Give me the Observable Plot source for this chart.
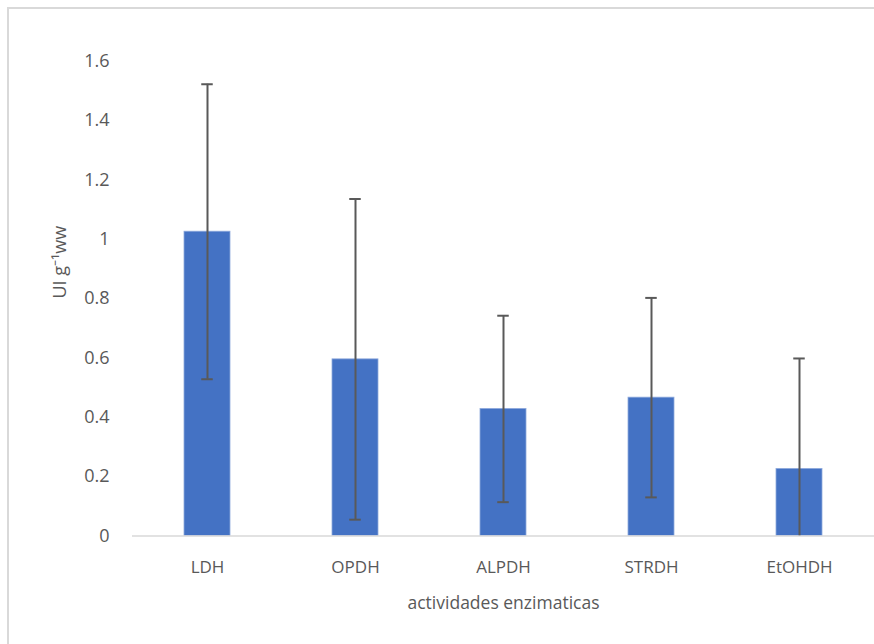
<!DOCTYPE html>
<html>
<head>
<meta charset="utf-8">
<script src="https://cdn.jsdelivr.net/npm/d3@7"></script>
<script src="https://cdn.jsdelivr.net/npm/@observablehq/plot@0.6"></script>
<style>
  html, body { margin: 0; padding: 0; background: #fff; overflow: hidden; }
  #wrap { position: relative; width: 874px; height: 644px; }
  #border { position: absolute; left: 7px; top: 7px; width: 880px; height: 660px; border: 2px solid #d9d9d9; box-sizing: border-box; }
  #chart { position: absolute; left: 0; top: 0; }
  g[aria-label="y-axis tick label"], g[aria-label="y-axis tick label"] text { font-size: 18px !important; }
  g[aria-label="x-axis tick label"], g[aria-label="x-axis tick label"] text { font-size: 17px !important; }
</style>
</head>
<body>
<div id="wrap"><div id="border"></div><div id="chart"></div></div>
<script>
const categories = ["LDH", "OPDH", "ALPDH", "STRDH", "EtOHDH"];
const means = [1.025, 0.595, 0.428, 0.466, 0.226];
const errors = [0.497, 0.540, 0.314, 0.336, 0.372];
const yTicks = [0, 0.2, 0.4, 0.6, 0.8, 1, 1.2, 1.4, 1.6];
const xTitle = "actividades enzimaticas";
const yTitle = "UI g⁻¹ww";

const data = categories.map((c, i) => ({cat: c, v: means[i], lo: means[i] - errors[i], hi: means[i] + errors[i]}));

const textColor = "#595959";
const font = "'Open Sans', sans-serif";

const chart = Plot.plot({
  width: 874,
  height: 644,
  marginLeft: 132,
  marginRight: 0,
  marginTop: 60.5,
  marginBottom: 108.5,
  style: {fontFamily: font, fontSize: "17px", color: textColor, background: "transparent"},
  x: {type: "band", domain: categories, paddingInner: 0.686, paddingOuter: 0.343, label: null},
  y: {domain: [0, 1.6], label: null},
  marks: [
    Plot.axisY({ticks: yTicks, tickSize: 0, tickPadding: 23, tickFormat: d => String(+d.toFixed(1)), label: null, fill: textColor}),
    Plot.axisX({tickSize: 0, tickPadding: 25, label: null, fill: textColor}),
    Plot.barY(data, {x: "cat", y: "v", fill: "#4472C4", stroke: "#8faadc", strokeWidth: 0.8}),
    Plot.ruleY([0], {stroke: "#d9d9d9", strokeWidth: 1.5}),
    Plot.ruleX(data, {x: "cat", y1: d => Math.max(0, d.lo), y2: "hi", stroke: textColor, strokeWidth: 2, clip: true}),
    Plot.tickY(data, {x: "cat", y: "hi", stroke: textColor, strokeWidth: 2, insetLeft: 17.25, insetRight: 17.25, clip: true}),
    Plot.tickY(data.filter(d => d.lo >= 0), {x: "cat", y: "lo", stroke: textColor, strokeWidth: 2, insetLeft: 17.25, insetRight: 17.25}),
    Plot.text([xTitle], {frameAnchor: "bottom", text: d => d, dy: 73, fill: textColor, fontSize: 17.5}),
    Plot.text([yTitle], {frameAnchor: "left", text: d => d, rotate: -90, dx: -72, fill: textColor, fontSize: 18})
  ]
});
document.getElementById("chart").appendChild(chart);
</script>
</body>
</html>
